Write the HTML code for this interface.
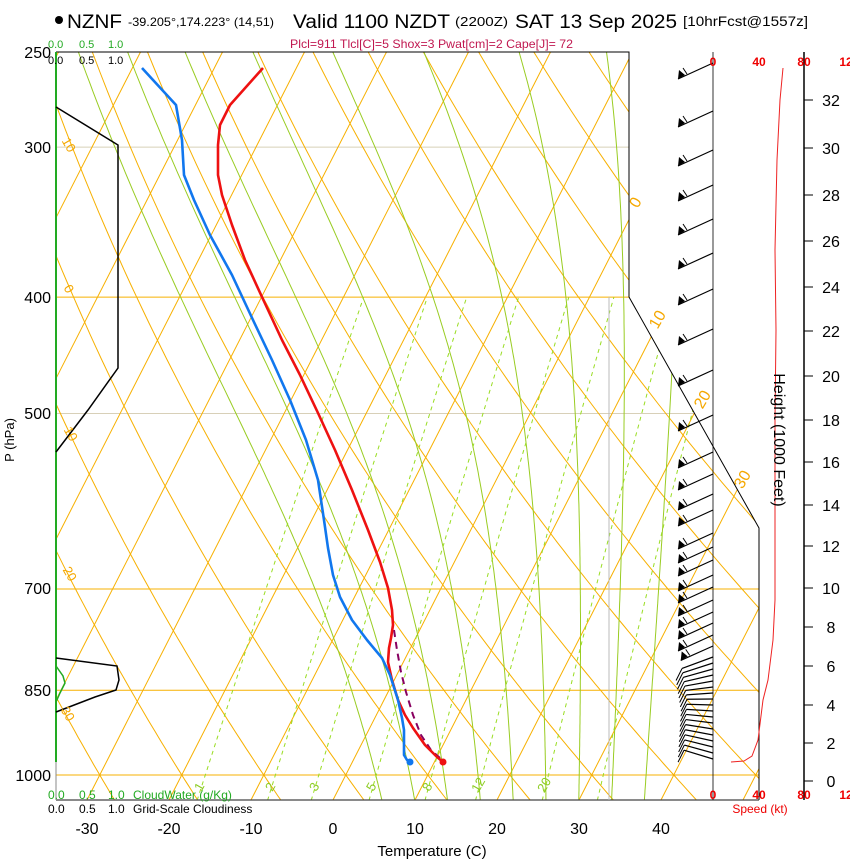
<!DOCTYPE html>
<html><head><meta charset="utf-8"><style>
html,body{margin:0;padding:0;background:#fff;width:850px;height:860px;overflow:hidden}
svg{display:block;font-family:"Liberation Sans",sans-serif}
</style></head><body>
<svg id="s" width="850" height="860" viewBox="0 0 850 860" xmlns="http://www.w3.org/2000/svg">
<defs><clipPath id="cp"><polygon points="56,52 629,52 629,297 759,528 759,800 56,800"/></clipPath></defs>
<g id="grid" clip-path="url(#cp)"></g>
<g id="fg"></g>
<polyline points="56,52 629,52 629,297 759,528 759,800" fill="none" stroke="#000" stroke-width="1"/>
<line x1="56" y1="800" x2="759" y2="800" stroke="#444" stroke-width="1.2"/>
<line x1="56" y1="52" x2="56" y2="800" stroke="#888" stroke-width="1"/>
<line x1="56" y1="52" x2="56" y2="762" stroke="#22aa22" stroke-width="2"/>
<line x1="609" y1="297" x2="609" y2="800" stroke="#bbb" stroke-width="1"/>
<line x1="713" y1="52" x2="713" y2="800" stroke="#000" stroke-width="0.8"/>
<line x1="804" y1="52" x2="804" y2="800" stroke="#000" stroke-width="1.5"/>
<polyline points="56,107 118,145 118,368 88,410 56,452" fill="none" stroke="#000" stroke-width="1.5"/>
<polyline points="56,658 117,666 119,680 116,690 95,697 56,712" fill="none" stroke="#000" stroke-width="1.5"/>
<polyline points="56,666 63,676 65,683 60,693 56,702" fill="none" stroke="#22aa22" stroke-width="1.5"/>
<polyline fill="none" stroke="#880060" stroke-width="2" stroke-dasharray="7,5" points="394,630 397,650 401,672 406,692 413,715 421,735 431,750 440,758"/>
<polyline fill="none" stroke="#ee1111" stroke-width="2.6" stroke-linejoin="round" points="263,68 230,105 220,125 218,145 218,175 222,195 232,225 245,260 262,297 282,340 300,375 318,413 335,450 352,490 368,530 380,562 388,588 392,610 393,625 391,638 389,648 388,662 392,680 398,700 405,715 413,728 425,745 437,757 443,762"/>
<polyline fill="none" stroke="#1177ee" stroke-width="2.6" stroke-linejoin="round" points="142,68 176,105 182,140 184,175 194,200 210,235 232,275 253,320 272,360 290,400 306,440 318,480 324,520 328,548 333,575 340,597 352,620 367,640 382,658 390,675 398,700 402,718 404,730 404,755 407,760 411,762"/>
<circle cx="443" cy="762" r="3.5" fill="#ee1111"/>
<circle cx="410" cy="762" r="3.5" fill="#1177ee"/>
<polyline fill="none" stroke="#ee2222" stroke-width="1" points="783,68 780,100 777,160 775,250 776,330 775,420 775,520 775,600 773,640 768,680 763,700 758,740 752,756 744,761 731,762"/>
<circle cx="59" cy="20" r="4" fill="#000"/>
<text x="67" y="28" font-size="19" textLength="55" lengthAdjust="spacingAndGlyphs">NZNF</text>
<text x="128" y="26" font-size="12" textLength="146" lengthAdjust="spacingAndGlyphs">-39.205°,174.223° (14,51)</text>
<text x="293" y="28" font-size="19" textLength="157" lengthAdjust="spacingAndGlyphs">Valid 1100 NZDT</text>
<text x="455" y="26" font-size="13" textLength="53" lengthAdjust="spacingAndGlyphs">(2200Z)</text>
<text x="515" y="28" font-size="19" textLength="162" lengthAdjust="spacingAndGlyphs">SAT 13 Sep 2025</text>
<text x="683" y="26" font-size="14" textLength="125" lengthAdjust="spacingAndGlyphs">[10hrFcst@1557z]</text>
<text x="290" y="48" font-size="12" fill="#c01850" textLength="283" lengthAdjust="spacingAndGlyphs">Plcl=911 Tlcl[C]=5 Shox=3 Pwat[cm]=2 Cape[J]= 72</text>
<g font-size="11" fill="#22aa22"><text x="48" y="48">0.0</text><text x="79" y="48">0.5</text><text x="108" y="48">1.0</text></g>
<g font-size="11" fill="#000"><text x="48" y="64">0.0</text><text x="79" y="64">0.5</text><text x="108" y="64">1.0</text></g>
<g font-size="16" text-anchor="end"><text x="51" y="58">250</text><text x="51" y="153">300</text><text x="51" y="303">400</text><text x="51" y="419">500</text><text x="51" y="594">700</text><text x="51" y="696">850</text><text x="51" y="781">1000</text></g>
<text transform="translate(14,440) rotate(-90)" font-size="13" text-anchor="middle">P (hPa)</text>
<g font-size="12" fill="#22aa22"><text x="48" y="799">0.0</text><text x="79" y="799">0.5</text><text x="108" y="799">1.0</text><text x="133" y="799">CloudWater (g/Kg)</text></g>
<g font-size="12" fill="#000"><text x="48" y="813">0.0</text><text x="79" y="813">0.5</text><text x="108" y="813">1.0</text><text x="133" y="813">Grid-Scale Cloudiness</text></g>
<g font-size="16" text-anchor="middle"><text x="87" y="834">-30</text><text x="169" y="834">-20</text><text x="251" y="834">-10</text><text x="333" y="834">0</text><text x="415" y="834">10</text><text x="497" y="834">20</text><text x="579" y="834">30</text><text x="661" y="834">40</text></g>
<text x="432" y="856" font-size="15" text-anchor="middle">Temperature (C)</text>
<g font-size="12" font-weight="bold" fill="#ee0000" text-anchor="middle"><text x="713" y="66">0</text><text x="759" y="66">40</text><text x="804" y="66">80</text><text x="846" y="66">12</text>
<text x="713" y="799">0</text><text x="759" y="799">40</text><text x="804" y="799">80</text><text x="846" y="799">12</text></g>
<text x="760" y="813" font-size="12" fill="#ee0000" text-anchor="middle">Speed (kt)</text>
<g id="hax" font-size="16" text-anchor="middle"></g>
<text transform="translate(774,440) rotate(90)" font-size="16" text-anchor="middle">Height (1000 Feet)</text>
<g font-size="16" fill="#f5a800" text-anchor="middle">
<text transform="translate(640,205) rotate(-60)">0</text>
<text transform="translate(662,322) rotate(-60)">10</text>
<text transform="translate(707,402) rotate(-60)">20</text>
<text transform="translate(747,482) rotate(-60)">30</text>
</g>
<g font-size="13" fill="#f5a800" text-anchor="middle">
<text transform="translate(65,147) rotate(60)">10</text>
<text transform="translate(65,291) rotate(60)">0</text>
<text transform="translate(67,436) rotate(60)">10</text>
<text transform="translate(66,576) rotate(60)">20</text>
<text transform="translate(64,716) rotate(60)">30</text>
</g>
<g font-size="13" fill="#8ccc22" text-anchor="middle">
<text transform="translate(203,789) rotate(-60)">1</text>
<text transform="translate(274,789) rotate(-60)">2</text>
<text transform="translate(318,789) rotate(-60)">3</text>
<text transform="translate(375,789) rotate(-60)">5</text>
<text transform="translate(431,789) rotate(-60)">8</text>
<text transform="translate(482,787) rotate(-60)">12</text>
<text transform="translate(548,787) rotate(-60)">20</text>
</g>
</svg>
<script>
(function(){
var NS="http://www.w3.org/2000/svg";
var g=document.getElementById("grid"),fg=document.getElementById("fg");
function el(p,t,a){var e=document.createElementNS(NS,t);for(var k in a)e.setAttribute(k,a[k]);p.appendChild(e);return e;}
function yP(p){return 775-521.5*Math.log(1000/p);}
function xT(T,y){return 333+8.2*T+0.51*(800-y);}
function poly(pts,attrs){attrs.points=pts.map(function(q){return q[0].toFixed(1)+","+q[1].toFixed(1)}).join(" ");attrs.fill="none";el(g,"polyline",attrs);}
var OR="#f7b000";
[300,400,500,700,850,1000].forEach(function(p){var y=yP(p);el(g,"line",{x1:56,y1:y,x2:759,y2:y,stroke:(p==300||p==500)?"#d8d0b8":OR,"stroke-width":1});});
for(var T=-120;T<=60;T+=10){poly([[xT(T,800),800],[xT(T,52),52]],{stroke:OR,"stroke-width":1});}
for(var th=-60;th<=220;th+=10){var pts=[];for(var p=1060;p>=240;p-=10){var Tc=(th+273.15)*Math.pow(p/1000,0.2857)-273.15;var y=yP(p);pts.push([xT(Tc,y),y]);}poly(pts,{stroke:OR,"stroke-width":1});}
function dTdp(T,p){var Tk=T+273.15;var es=6.112*Math.exp(17.67*T/(T+243.5));var rs=0.622*es/(p-es);var num=287*Tk+2.5e6*rs;var den=1004+2.5e6*2.5e6*rs*0.622/(287*Tk*Tk);return num/(p*den);}
[6,10,14,18,22,26,30,34,38].forEach(function(T0){var pts=[];var T=T0,p=1050;while(p>=240){var y=yP(p);pts.push([xT(T,y),y]);var d=dTdp(T,p);T-=d*5;p-=5;}poly(pts,{stroke:"#99cc22","stroke-width":1});});
[1,2,3,5,8,12,20,30].forEach(function(w){var pts=[];for(var p=1050;p>=400;p-=10){var es=w*p/(622+w);var L=Math.log(es/6.112);var T=243.5*L/(17.67-L);var y=yP(p);pts.push([xT(T,y),y]);}poly(pts,{stroke:"#99dd22","stroke-width":1,"stroke-dasharray":"4,4"});});
var ys=[63,111,150,185,219,253,289,329,370,415,452,474,494,510,533,547,560,575,587,600,612,623,635,646];
for(var y=657;y<=762;y+=6)ys.push(y);
ys.forEach(function(y){
 var dy,len;
 if(y<640){dy=16;len=35;}else if(y<700){dy=16-(y-640)*16/60;len=33-(y-640)*0.12;}else{dy=-(y-700)*9/60;len=26+(y-700)*0.05;}
 var x2=713-len,y2=y+dy;
 el(fg,"line",{x1:713,y1:y,x2:x2,y2:y2,stroke:"#000","stroke-width":1.2});
 if(y<655){el(fg,"polygon",{points:x2+","+y2+" "+(x2+7)+","+(y2-4)+" "+(x2+1)+","+(y2-9),fill:"#000"});
  el(fg,"line",{x1:x2+9,y1:y2-5,x2:x2+5,y2:y2-11,stroke:"#000","stroke-width":1});}
 else{el(fg,"line",{x1:x2,y1:y2,x2:x2-6,y2:y2+12,stroke:"#000","stroke-width":1});}
});
var hax=document.getElementById("hax");
var hy={0:781,2:743,4:705,6:666,8:627,10:588,12:546,14:505,16:462,18:420,20:376,22:331,24:287,26:241,28:195,30:148,32:100};
for(var h in hy){el(fg,"line",{x1:804,y1:hy[h],x2:813,y2:hy[h],stroke:"#000","stroke-width":1});var t=el(hax,"text",{x:831,y:hy[h]+6});t.textContent=h;}
})();
</script>
</body></html>
